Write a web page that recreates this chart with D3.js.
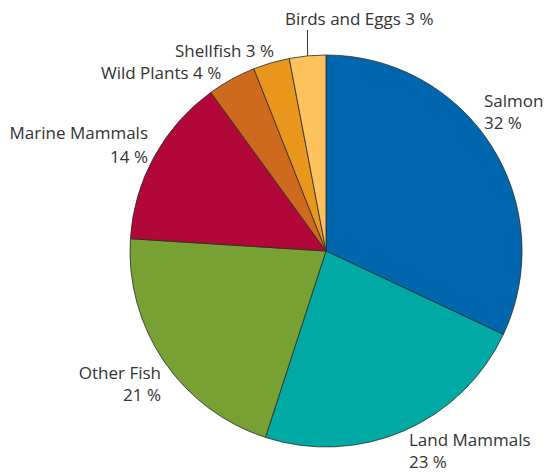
<!DOCTYPE html>
<html>
<head>
<meta charset="utf-8">
<script src="https://d3js.org/d3.v7.min.js"></script>
<style>
  body { margin: 0; background: #fff; }
  text { font-family: 'Open Sans', sans-serif; font-size: 17px; fill: #333; }
</style>
</head>
<body>
<svg id="chart" width="545" height="474"></svg>
<script>
// data
var categories = ["Salmon", "Land Mammals", "Other Fish", "Marine Mammals", "Wild Plants", "Shellfish", "Birds and Eggs"];
var values = [32, 23, 21, 14, 4, 3, 3];
var colors = ["#0066ae", "#00a9a4", "#77a233", "#b10839", "#cd6a1d", "#e8961c", "#fdc15e"];

// label placement: [x, y, anchor, two lines?, line gap]
var labelPos = [
  [484, 107, "start", true, 22],
  [409, 446, "start", true, 22],
  [161, 379, "end", true, 22],
  [148, 139, "end", true, 24],
  [101, 79, "start", false],
  [175, 57, "start", false],
  [285, 25, "start", false]
];

var cx = 326, cy = 251, r = 196;
var svg = d3.select("#chart");
var g = svg.append("g").attr("transform", "translate(" + cx + "," + cy + ")");

var pie = d3.pie().sort(null).value(function(d) { return d; });
var arc = d3.arc().innerRadius(0).outerRadius(r);
var arcs = pie(values);

g.selectAll("path")
  .data(arcs)
  .enter()
  .append("path")
  .attr("d", arc)
  .attr("fill", function(d, i) { return colors[i]; })
  .attr("stroke", "#2a2a2a")
  .attr("stroke-width", 0.8);

// leader line for the small top slice
var last = arcs[arcs.length - 1];
var mid = (last.startAngle + last.endAngle) / 2;
svg.append("line")
  .attr("x1", cx + Math.sin(mid) * r).attr("y1", cy - Math.cos(mid) * r)
  .attr("x2", cx + Math.sin(mid) * r).attr("y2", 30)
  .attr("stroke", "#333").attr("stroke-width", 1);

categories.forEach(function(c, i) {
  var p = labelPos[i];
  var t = svg.append("text")
    .attr("x", p[0]).attr("y", p[1])
    .attr("text-anchor", p[2]);
  if (p[3]) {
    t.append("tspan").attr("x", p[0]).text(c);
    t.append("tspan").attr("x", p[0]).attr("dy", p[4]).text(values[i] + " %");
  } else {
    t.text(c + " " + values[i] + " %");
  }
});
</script>
</body>
</html>
